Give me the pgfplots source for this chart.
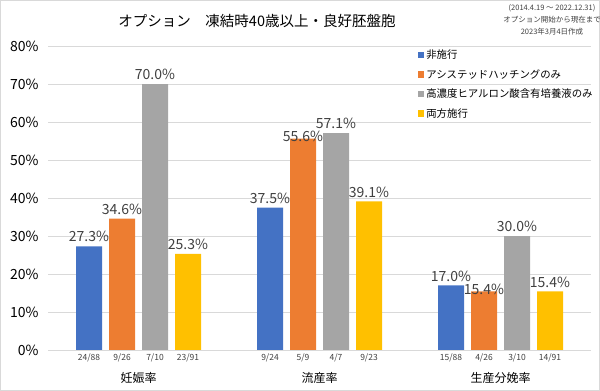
\documentclass[border=0pt]{standalone}
\usepackage{pgfplots}
\pgfplotsset{compat=1.18}
\usepackage{fontspec}
\setmainfont{Noto Sans CJK JP}
\definecolor{cBlue}{HTML}{4472C4}
\definecolor{cOrange}{HTML}{ED7D31}
\definecolor{cGray}{HTML}{A5A5A5}
\definecolor{cYellow}{HTML}{FFC000}
\definecolor{cGrid}{HTML}{D9D9D9}
\definecolor{cText}{HTML}{404040}
\tikzset{frac/.style={font=\fontsize{8.5}{10}\selectfont, text=cText, anchor=center, yshift=-7.5pt}}
\begin{document}
\begin{tikzpicture}[x=1pt,y=1pt]
\useasboundingbox (0,0) rectangle (600,391);
\draw[cGrid,line width=1pt] (0.5,0.5) rectangle (599.5,390.5);
\node[font=\fontsize{14.5}{18}\selectfont, text=black] at (257,370) {オプション　凍結時40歳以上・良好胚盤胞};
\node[font=\fontsize{7.5}{12}\selectfont, text=cText, align=center] at (552,371) {(2014.4.19 ～ 2022.12.31)\\オプション開始から現在まで\\2023年3月4日作成};
\begin{axis}[
  at={(48pt,41pt)}, anchor=south west,
  scale only axis, width=543pt, height=304pt,
  clip=false,
  ybar=7pt, bar width=26pt,
  xmin=-0.5, xmax=2.5, ymin=0, ymax=80,
  ytick={0,10,...,80},
  yticklabel={\pgfmathprintnumber{\tick}\%},
  /pgf/number format/assume math mode=true,
  xtick={0,1,2}, xticklabels={妊娠率,流産率,生産分娩率},
  xticklabel style={yshift=-19pt, font=\fontsize{12}{14}\selectfont},
  yticklabel style={font=\fontsize{14}{16}\selectfont, xshift=-6pt},
  major tick length=0pt,
  ymajorgrids, grid style={cGrid, line width=0.8pt},
  axis lines*=left,
  y axis line style={draw=none},
  x axis line style={cGrid, line width=0.8pt, -},
  nodes near coords={\pgfmathprintnumber[fixed,fixed zerofill,precision=1]{\pgfplotspointmeta}\%},
  nodes near coords style={font=\fontsize{14}{16}\selectfont, text=cText, inner sep=2pt, yshift=2pt},
  legend style={at={(rel axis cs:0.677,1)}, anchor=north west, draw=none, fill=none,
     font=\fontsize{10.4}{12}\selectfont, row sep=5.2pt, inner sep=2pt},
  legend cell align=left,
  legend image code/.code={\fill[#1] (0pt,-3pt) rectangle (6.5pt,3.5pt);},
  every axis plot/.append style={draw=none},
]
\addplot[fill=cBlue] coordinates {(0,27.3) (1,37.5) (2,17.0)};
\addplot[fill=cOrange, coordinate style/.condition={x>0.5}{yshift=-7pt}] coordinates {(0,34.6) (1,55.6) (2,15.4)};
\addplot[fill=cGray] coordinates {(0,70.0) (1,57.1) (2,30.0)};
\addplot[fill=cYellow] coordinates {(0,25.3) (1,39.1) (2,15.4)};
\legend{非施行,アシステッドハッチングのみ,高濃度ヒアルロン酸含有培養液のみ,両方施行}
\node[frac, xshift=-49.5pt] at (axis cs:0,0) {24/88};
\node[frac, xshift=-16.5pt] at (axis cs:0,0) {9/26};
\node[frac, xshift=16.5pt] at (axis cs:0,0) {7/10};
\node[frac, xshift=49.5pt] at (axis cs:0,0) {23/91};
\node[frac, xshift=-49.5pt] at (axis cs:1,0) {9/24};
\node[frac, xshift=-16.5pt] at (axis cs:1,0) {5/9};
\node[frac, xshift=16.5pt] at (axis cs:1,0) {4/7};
\node[frac, xshift=49.5pt] at (axis cs:1,0) {9/23};
\node[frac, xshift=-49.5pt] at (axis cs:2,0) {15/88};
\node[frac, xshift=-16.5pt] at (axis cs:2,0) {4/26};
\node[frac, xshift=16.5pt] at (axis cs:2,0) {3/10};
\node[frac, xshift=49.5pt] at (axis cs:2,0) {14/91};
\end{axis}
\end{tikzpicture}
\end{document}
